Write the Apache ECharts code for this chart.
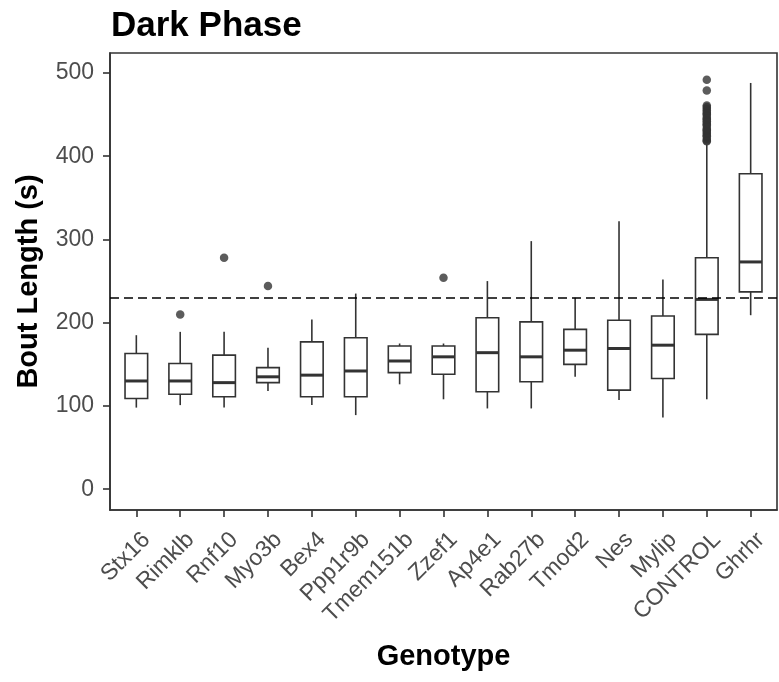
<!DOCTYPE html>
<html>
<head>
<meta charset="utf-8">
<script src="https://cdn.jsdelivr.net/npm/echarts@6/dist/echarts.min.js"></script>
<style>html,body{margin:0;padding:0;background:#fff;}#c{width:779px;height:682px;}</style>
</head>
<body>
<div id="c"></div>
<script>
const categories = ['Stx16','Rimklb','Rnf10','Myo3b','Bex4','Ppp1r9b','Tmem151b','Zzef1','Ap4e1','Rab27b','Tmod2','Nes','Mylip','CONTROL','Ghrhr'];
const lowWhisker  = [98, 101, 98, 118, 101, 89, 126, 108, 97, 97, 135, 107, 86, 108, 209];
const q1          = [109, 114, 111, 128, 111, 111, 140, 138, 117, 129, 150, 119, 133, 186, 237];
const medianVals  = [130, 130, 128, 135, 137, 142, 154, 159, 164, 159, 167, 169, 173, 228, 273];
const q3          = [163, 151, 161, 146, 177, 182, 172, 172, 206, 201, 192, 203, 208, 278, 379];
const highWhisker = [185, 189, 189, 170, 204, 235, 175, 175, 250, 298, 230, 322, 252, 414, 488];
const outlierGenotype = ['Rimklb','Rnf10','Myo3b','Zzef1'];
const outlierValue    = [210, 278, 244, 254];
const controlOutliers = [418, 419, 421, 424, 425, 427, 429, 431, 432, 434, 437, 438, 440, 442, 444, 445, 447, 450, 451, 453, 455, 457, 459, 461, 479, 492];
const referenceLine = 230;
const yTicks = [0, 100, 200, 300, 400, 500];

const xPos = categories.map((c, i) => i + 1);
const boxData = categories.map((c, i) => [i + 1, lowWhisker[i], q1[i], medianVals[i], q3[i], highWhisker[i]]);
const outlierData = outlierGenotype.map((g, i) => [categories.indexOf(g) + 1, outlierValue[i]]);
controlOutliers.forEach(v => outlierData.push([categories.indexOf('CONTROL') + 1, v]));

const ink = '#333333';
const lw = 1.6;
const chart = echarts.init(document.getElementById('c'));
chart.setOption({
  backgroundColor: '#fff',
  animation: false,
  title: {
    text: 'Dark Phase', left: 106, top: 4,
    textStyle: {fontFamily: 'Liberation Sans', fontWeight: 'bold', fontSize: 35, color: '#000'}
  },
  grid: {left: 110, right: 2, top: 53, bottom: 172, show: true, borderColor: ink, borderWidth: lw, backgroundColor: '#fff'},
  xAxis: {
    type: 'value', min: 0.4, max: 15.6,
    name: 'Genotype', nameLocation: 'middle', nameGap: 132,
    nameTextStyle: {fontFamily: 'Liberation Sans', fontWeight: 'bold', fontSize: 29, color: '#000'},
    axisLine: {show: true, onZero: false, lineStyle: {color: ink, width: lw}},
    axisTick: {show: true, length: 7, lineStyle: {color: ink, width: lw}, customValues: xPos},
    axisLabel: {
      customValues: xPos, rotate: 45, margin: 16, verticalAlign: 'top', align: 'right',
      padding: [3, 0, 0, 0],
      formatter: v => categories[Math.round(v) - 1] || '',
      fontFamily: 'Liberation Sans', fontSize: 23, color: '#4D4D4D'
    },
    splitLine: {show: false}
  },
  yAxis: {
    type: 'value', min: -25, max: 524,
    name: 'Bout Length (s)', nameLocation: 'middle', nameGap: 67, nameRotate: 90,
    nameTextStyle: {fontFamily: 'Liberation Sans', fontWeight: 'bold', fontSize: 29, color: '#000'},
    axisLine: {show: true, onZero: false, lineStyle: {color: ink, width: lw}},
    axisTick: {show: true, length: 7, lineStyle: {color: ink, width: lw}, customValues: yTicks},
    axisLabel: {customValues: yTicks, margin: 16, fontFamily: 'Liberation Sans', fontSize: 23, color: '#4D4D4D'},
    splitLine: {show: false}
  },
  series: [
    {
      type: 'custom',
      data: boxData,
      z: 2,
      renderItem: function (params, api) {
        const x = api.value(0);
        const pLow = api.coord([x, api.value(1)]);
        const pQ1 = api.coord([x, api.value(2)]);
        const pMed = api.coord([x, api.value(3)]);
        const pQ3 = api.coord([x, api.value(4)]);
        const pHigh = api.coord([x, api.value(5)]);
        const half = 11.3;
        const cx = pLow[0];
        const st = {stroke: ink, lineWidth: lw, fill: null};
        return {
          type: 'group',
          children: [
            {type: 'line', shape: {x1: cx, y1: pLow[1], x2: cx, y2: pQ1[1]}, style: st},
            {type: 'line', shape: {x1: cx, y1: pQ3[1], x2: cx, y2: pHigh[1]}, style: st},
            {type: 'rect', shape: {x: cx - half, y: pQ3[1], width: 2 * half, height: pQ1[1] - pQ3[1]}, style: {stroke: ink, lineWidth: lw, fill: '#fff'}},
            {type: 'line', shape: {x1: cx - half, y1: pMed[1], x2: cx + half, y2: pMed[1]}, style: {stroke: ink, lineWidth: 3}}
          ]
        };
      }
    },
    {
      type: 'scatter',
      data: outlierData,
      symbol: 'circle', symbolSize: 8.5,
      itemStyle: {color: ink},
      z: 3,
      markLine: {
        silent: true, symbol: 'none', label: {show: false},
        lineStyle: {type: [9, 5], color: '#000', width: 1.6},
        data: [{yAxis: referenceLine}]
      }
    }
  ]
});
</script>
</body>
</html>
